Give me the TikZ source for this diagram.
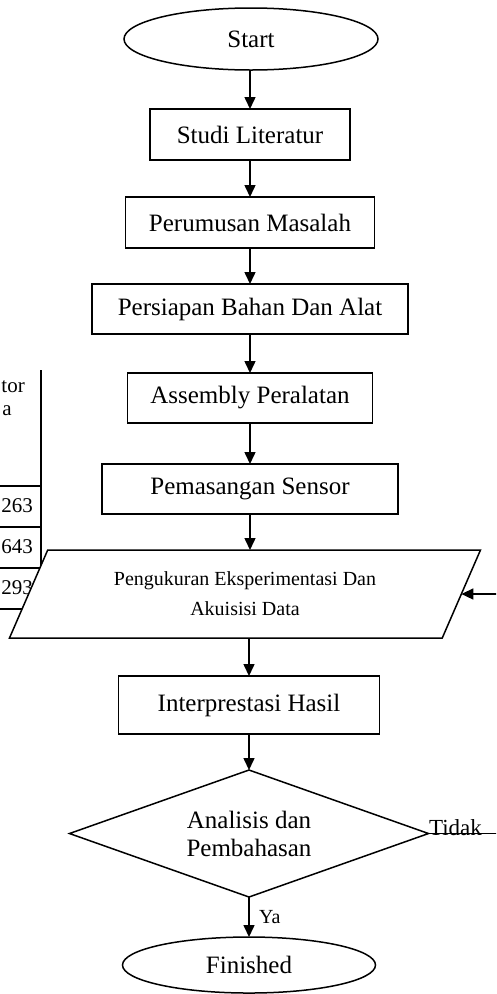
\documentclass[tikz,border=0pt]{standalone}
\usepackage{fontspec}
\setmainfont{Liberation Serif}
\usetikzlibrary{arrows.meta,positioning,shapes.geometric,calc}
\tikzset{>={Triangle[length=12pt,width=11pt]}}

\begin{document}
\begin{tikzpicture}[
    box/.style={draw, line width=1.5pt, outer sep=0pt, fill=white, minimum width=#1, minimum height=50pt, align=center, font=\fontsize{25}{29}\selectfont},
    term/.style={draw, ellipse, line width=1.5pt, outer sep=0pt, minimum width=254pt, minimum height=62pt, font=\fontsize{25}{29}\selectfont},
    io/.style={draw, trapezium, trapezium left angle=53, trapezium right angle=127, trapezium stretches body, line width=1.5pt, outer sep=0pt, fill=white, minimum width=471pt, minimum height=88pt, align=center, font=\fontsize{20}{30}\selectfont},
    decision/.style={draw, diamond, aspect=2.8, inner sep=1pt, line width=1.5pt, outer sep=0pt, minimum width=359pt, minimum height=127pt, align=center, font=\fontsize{25}{28}\selectfont},
    arr/.style={->, line width=1.5pt},
    lbl/.style={font=\fontsize{20}{24}\selectfont},
    cell/.style={font=\fontsize{21}{24}\selectfont, inner sep=0pt}
  ]
    \useasboundingbox (0,0) rectangle (496pt,-994pt);
    \clip (0,0) rectangle (496pt,-994pt);

    % cut-off table on the left
    \draw[line width=1.2pt] (41pt,-370pt) -- (41pt,-609pt);
    \foreach \y in {486,527,568,609}
      \draw[line width=1.2pt] (0,-\y pt) -- (41pt,-\y pt);
    \node[cell, anchor=east] (hd1) at (25pt,-387pt) {tor};
    \node[cell, anchor=east] (hd2) at (12pt,-411pt) {a};
    \node[cell, anchor=east] (c1) at (33pt,-506pt) {263};
    \node[cell, anchor=east] (c2) at (33pt,-547pt) {643};
    \node[cell, anchor=east] (c3) at (33pt,-588pt) {293};

    \node[term] (start) at (251pt,-39pt) {Start};
    \node[box=200pt, minimum height=51pt, below=39pt of start, xshift=-1pt] (studi) {Studi Literatur};
    \node[box=249pt, minimum height=51pt, below=37pt of studi] (rumus) {Perumusan Masalah};
    \node[box=316pt, below=36pt of rumus] (siap) {Persiapan Bahan Dan Alat};
    \node[box=245pt, below=39pt of siap] (rakit) {Assembly Peralatan};
    \node[box=296pt, below=41pt of rakit] (sensor) {Pemasangan Sensor};
    \node[io, below=36pt of sensor, xshift=-5pt] (ukur) {Pengukuran Eksperimentasi Dan\\Akuisisi Data};
    \node[box=261pt, minimum height=58pt, below=38pt of ukur, xshift=4pt] (hasil) {Interprestasi Hasil};
    \node[decision, below=36pt of hasil] (bahas) {Analisis dan\\Pembahasan};
    \node[term, minimum width=253pt, minimum height=56pt, below=40pt of bahas] (selesai) {Finished};
    \coordinate (balik) at ($(bahas.east)+(100pt,0)$);

    \draw[arr] (start.south -| studi.north) -- (studi);
    \draw[arr] (studi) -- (rumus);
    \draw[arr] (rumus) -- (siap);
    \draw[arr] (siap) -- (rakit);
    \draw[arr] (rakit) -- (sensor);
    \draw[arr] (sensor.south) -- (sensor.south |- ukur.north);
    \draw[arr] (hasil.north |- ukur.south) -- (hasil);
    \draw[arr] (hasil) -- (bahas);
    \draw[arr] (bahas) -- node[lbl, right, xshift=6pt]{Ya} (selesai);
    \draw[arr] (bahas.east) -- node[lbl, pos=0.27, anchor=base, yshift=-2pt, font=\fontsize{23}{26}\selectfont]{Tidak} (balik) |- (ukur.east);
  \end{tikzpicture}
\end{document}
